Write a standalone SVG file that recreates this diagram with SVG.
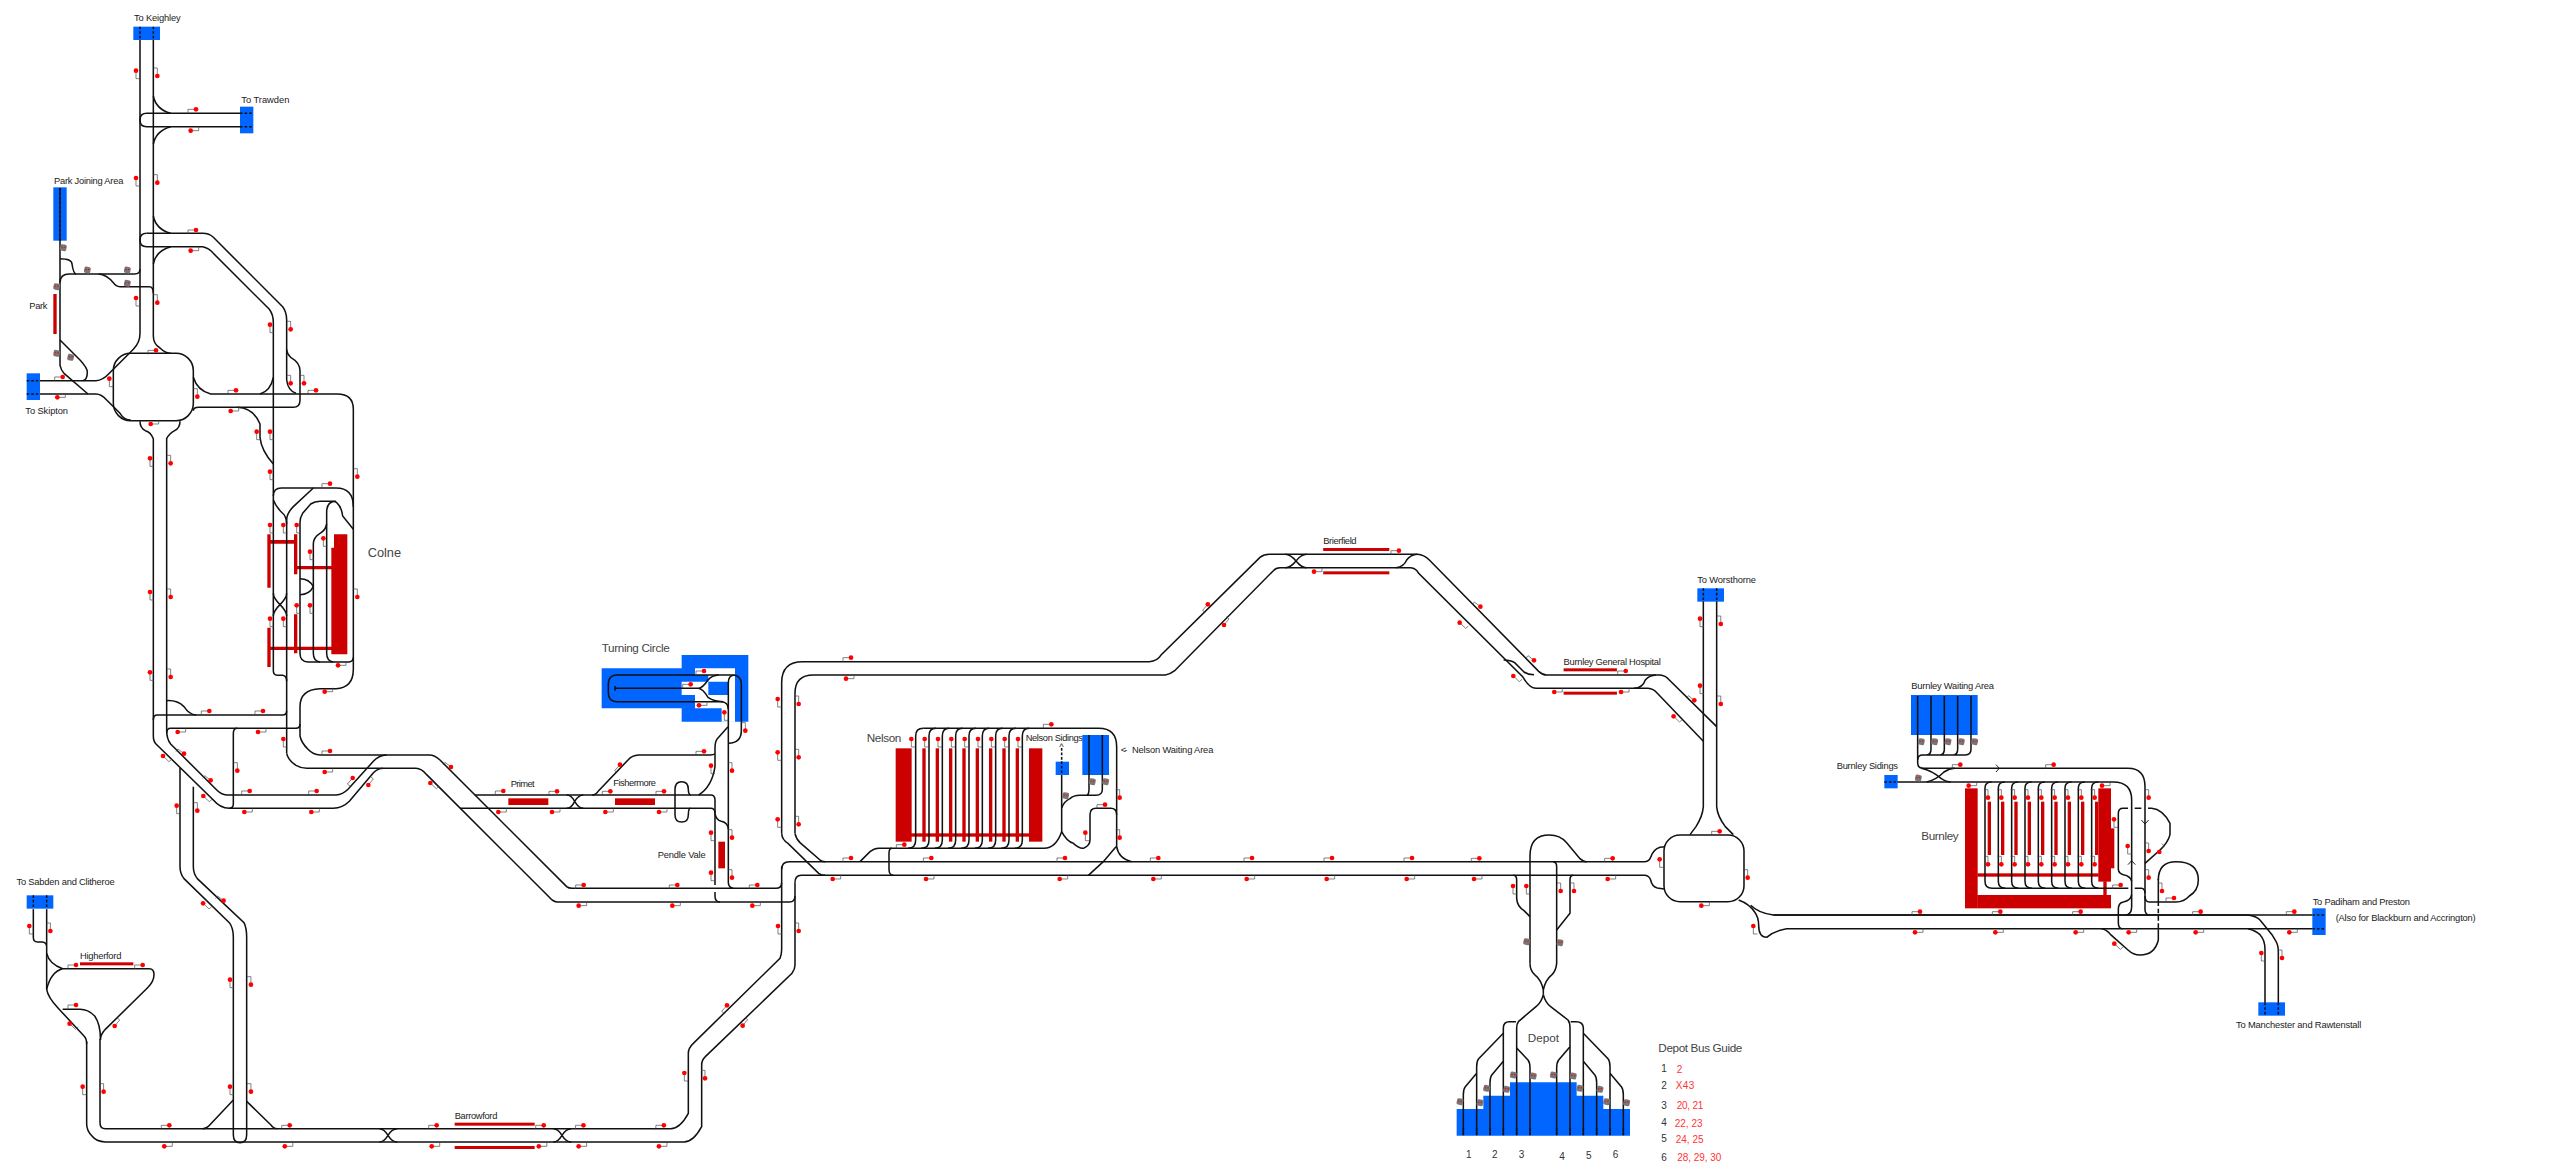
<svg xmlns="http://www.w3.org/2000/svg" width="2560" height="1176" viewBox="0 0 2560 1176">
<style>
text{font-family:"Liberation Sans",Arial,sans-serif;font-size:7px;fill:#222}
.big{font-size:8.8px;fill:#444}
.rt{font-size:7.5px;fill:#f33}
.num{font-size:7.5px;fill:#333}
.b{fill:#06f}
.r{fill:#c00}
.w{fill:#fff}
.t{fill:none;stroke:#111;stroke-width:1.15}
.d{fill:none;stroke:#111;stroke-width:1.15;stroke-dasharray:2 1.4}
.k{fill:none;stroke:#444;stroke-width:.5}
.o{fill:#f00}
.g{fill:#777}
</style>
<defs>
<g id="a"><path class="k" d="M-6,3V0H0"/><circle class="o" r="1.75"/></g>
<g id="u"><path class="k" d="M6,-3V0H0"/><circle class="o" r="1.75"/></g>
<g id="l"><path class="k" d="M0,0V6H3"/><circle class="o" r="1.75"/></g>
<g id="n"><path class="k" d="M0,0V-6H-3"/><circle class="o" r="1.75"/></g>
<g id="p"><path class="k" d="M0,0L-4.5,-3.5L-6,-1.5"/><circle class="o" r="1.75"/></g>
<g id="q"><path class="k" d="M0,0L4.5,4.25L6.5,2.5"/><circle class="o" r="1.75"/></g>
<g id="v"><path class="k" d="M0,0L-4,4.5L-2,6"/><circle class="o" r="1.75"/></g>
<g id="e"><path class="k" d="M0,0L3.75,-4.5L1.75,-6.25"/><circle class="o" r="1.75"/></g>
<g id="gs"><rect class="g" x="-2.4" y="-2.4" width="4.8" height="4.8" rx="1.2" transform="rotate(12)"/><circle class="o" cx="-1" cy="-.4" r=".55"/><circle class="o" cx="1" cy="-.4" r=".55"/></g>
</defs>
<rect width="2560" height="1176" fill="#fff"/>
<g transform="scale(1.33333)">
<g id="to-keighley"><rect class="b" x="100" y="20" width="20" height="10"/><text x="100.5" y="16" textLength="35">To Keighley</text></g>
<g id="to-trawden"><rect class="b" x="180" y="80" width="10" height="20"/><text x="181" y="77.5" textLength="36">To Trawden</text></g>
<g id="park-joining-area"><rect class="b" x="40" y="140.5" width="10" height="40"/><text x="40.5" y="138" textLength="52">Park Joining Area</text></g>
<g id="park"><rect class="r" x="40" y="220.5" width="2.5" height="30"/><text x="22" y="231.5" textLength="13.5">Park</text></g>
<g id="to-skipton"><rect class="b" x="20" y="280" width="10" height="20"/><text x="19" y="310.75" textLength="32">To Skipton</text></g>
<g id="colne"><path class="r" d="M250.5,400.75h10v90h-12v-80h2zM200.5,400.75h2.5v4.25h17.5v-4.25h2.5v30h-2.5v-23h-17.5v33h-2.5zM223,424.5h25.5v2.5h-25.5zM200.5,470.75h2.5v14.25h17.5v-24.25h2.5v24.25h25.5v2.5h-25.5v2.5h-2.5v-2.5h-17.5v12.75h-2.5z"/><text class="big" style="font-size:9.6px" x="275.75" y="418" textLength="25">Colne</text></g>
<g id="turning-circle"><path class="b" d="M451.25,501.25h60v-10h50v50h-50v-10h-60z"/><path class="w" d="M521.25,501.25h30v40h-10v-10h-20v-10h25v-10h-15v-5h-10zM511.25,511.25h20v10h-20z"/><rect class="w" x="546.25" y="511.25" width="5" height="30"/><text class="big" x="451.25" y="488.75" textLength="51">Turning Circle</text></g>
<g id="primet"><rect class="r" x="381.25" y="598.75" width="30" height="5"/><text x="383" y="590" textLength="18">Primet</text></g>
<g id="fishermore"><rect class="r" x="461.25" y="598.75" width="30" height="5"/><text x="460" y="589.75" textLength="32">Fishermore</text></g>
<g id="pendle-vale"><rect class="r" x="538.75" y="631.25" width="5" height="20"/><text x="493.25" y="643.25" textLength="36">Pendle Vale</text></g>
<g id="to-sabden"><rect class="b" x="20" y="671.5" width="20" height="10"/><text x="12.4" y="664" textLength="73.6">To Sabden and Clitheroe</text></g>
<g id="higherford"><rect class="r" x="60" y="721.75" width="40" height="2.25"/><text x="60" y="719" textLength="31">Higherford</text></g>
<g id="barrowford"><rect class="r" x="341" y="842" width="60" height="2.25"/><rect class="r" x="341" y="859.5" width="60" height="2.25"/><text x="341" y="839.5" textLength="32">Barrowford</text></g>
<g id="nelson"><rect class="r" x="671.75" y="561.25" width="12" height="70"/><rect class="r" x="771.75" y="561.25" width="10" height="70"/><rect class="r" x="683" y="625" width="89" height="2.5"/><rect class="r" x="691.75" y="561.25" width="2.5" height="70"/><rect class="r" x="701.75" y="561.25" width="2.5" height="70"/><rect class="r" x="711.75" y="561.25" width="2.5" height="70"/><rect class="r" x="721.75" y="561.25" width="2.5" height="70"/><rect class="r" x="731.75" y="561.25" width="2.5" height="70"/><rect class="r" x="741.75" y="561.25" width="2.5" height="70"/><rect class="r" x="751.75" y="561.25" width="2.5" height="70"/><rect class="r" x="761.75" y="561.25" width="2.5" height="70"/><text class="big" x="650" y="556.75" textLength="26">Nelson</text></g>
<g id="nelson-sidings"><rect class="b" x="791.75" y="571.25" width="10" height="10"/><text x="769.25" y="555.75" textLength="43">Nelson Sidings</text><text x="794.5" y="562.5">^</text></g>
<g id="nelson-waiting-area"><rect class="b" x="811.75" y="551.25" width="20" height="30"/><text x="840.5" y="564.5" textLength="5">&lt;-</text><text x="849" y="564.5" textLength="61">Nelson Waiting Area</text></g>
<g id="brierfield"><rect class="r" x="992.4" y="411" width="49.6" height="2.25"/><rect class="r" x="992.4" y="428.5" width="49.6" height="2.25"/><text x="992.4" y="408" textLength="25">Brierfield</text></g>
<g id="burnley-general"><rect class="r" x="1172.7" y="501.25" width="40" height="2.25"/><rect class="r" x="1172.7" y="518.75" width="40" height="2.25"/><text x="1172.7" y="498.75" textLength="72.9">Burnley General Hospital</text></g>
<g id="to-worsthorne"><rect class="b" x="1273" y="441.25" width="20" height="10"/><text x="1273" y="437" textLength="44">To Worsthorne</text></g>
<g id="depot"><path class="b" d="M1132.5,811.75h50v10h20v10h20v20h-130v-20h20v-10h20z"/><text class="big" x="1145.75" y="781.25" textLength="23.5">Depot</text><text class="num" x="1099.5" y="868.75">1</text><text class="num" x="1119" y="868.75">2</text><text class="num" x="1139" y="868.75">3</text><text class="num" x="1169.5" y="870">4</text><text class="num" x="1189.5" y="869.5">5</text><text class="num" x="1209.5" y="868.75">6</text></g>
<g id="depot-bus-guide"><text class="big" x="1243.75" y="789" textLength="63">Depot Bus Guide</text><text class="num" x="1246" y="804.25">1</text><text class="num" x="1246" y="816.5">2</text><text class="num" x="1246" y="832">3</text><text class="num" x="1246" y="844.25">4</text><text class="num" x="1246" y="856.25">5</text><text class="num" x="1246" y="870.5">6</text><text class="rt" x="1257.5" y="804.5">2</text><text class="rt" x="1256.75" y="816.75" textLength="14">X43</text><text class="rt" x="1257.5" y="831.75" textLength="20">20, 21</text><text class="rt" x="1256" y="845" textLength="21">22, 23</text><text class="rt" x="1256.75" y="857" textLength="21">24, 25</text><text class="rt" x="1258" y="870.5" textLength="33">28, 29, 30</text></g>
<g id="burnley-waiting-area"><rect class="b" x="1433.25" y="521.25" width="50" height="30"/><text x="1433.5" y="517" textLength="62">Burnley Waiting Area</text></g>
<g id="burnley-sidings"><rect class="b" x="1413.25" y="581.25" width="10" height="10"/><text x="1377.5" y="577" textLength="46">Burnley Sidings</text></g>
<g id="burnley"><rect class="r" x="1473.75" y="591.25" width="9.5" height="90"/><rect class="r" x="1483" y="671.25" width="100.25" height="10"/><rect class="r" x="1483" y="655" width="91" height="2.5"/><rect class="r" x="1490.75" y="601.25" width="2.5" height="40"/><rect class="r" x="1500.75" y="601.25" width="2.5" height="40"/><rect class="r" x="1510.75" y="601.25" width="2.5" height="40"/><rect class="r" x="1520.75" y="601.25" width="2.5" height="40"/><rect class="r" x="1530.75" y="601.25" width="2.5" height="40"/><rect class="r" x="1540.75" y="601.25" width="2.5" height="40"/><rect class="r" x="1550.75" y="601.25" width="2.5" height="40"/><rect class="r" x="1560.75" y="601.25" width="2.5" height="40"/><rect class="r" x="1573.75" y="591.25" width="9.5" height="70"/><rect class="r" x="1571.25" y="601.25" width="2.5" height="40"/><rect class="r" x="1583.25" y="621.25" width="2.5" height="30"/><rect class="r" x="1577.5" y="661" width="2.5" height="10.5"/><text class="big" x="1441" y="630" textLength="28">Burnley</text></g>
<g id="to-padiham"><rect class="b" x="1734.25" y="681.25" width="10" height="20"/><text x="1734.5" y="678.75" textLength="73">To Padiham and Preston</text><text x="1751.75" y="690.75" textLength="105">(Also for Blackburn and Accrington)</text></g>
<g id="to-manchester"><rect class="b" x="1693.75" y="751.75" width="20" height="10"/><text x="1677" y="770.75" textLength="94">To Manchester and Rawtenstall</text></g>

<g id="connectors">
<path class="d" d="M105,20V30M115,20V30M180,85H190M180,95H190M45,141V181M20,285.5H30M20,295.5H30M25,671.5V682M35,671.5V682M796.25,571V582M1277.5,441.25V451M1287.5,441.25V451M1413.25,586.5H1423M1734.25,686.25H1744.25M1734.25,696.5H1744.25M1698.75,752V762M1708.75,752V762M1097.5,846V852M1107.5,846V852M1117.5,846V852M1127.5,846V852M1137.5,846V852M1147.5,846V852M1167.5,846V852M1177.5,846V852M1187.5,846V852M1197.5,846V852M1207.5,846V852M1217.5,846V852M796.25,561V571"/>
<path class="t" d="M105,30V250Q105,257 100,262L82,280Q77,285.5 72,285.5H30"/>
<path class="t" d="M115,30V252Q115,258 120,261Q124,265 128,265"/>
<path class="t" d="M180,85H110Q105,85 105,90Q105,95 110,95H180"/>
<path class="t" d="M115,72Q117,82 128,85M128,95Q117,98 115,108"/>
<path class="t" d="M115,162Q117,172 128,175H152Q157,175 160,178L212,230Q215,234 215,240V285Q216,293 222,295"/>
<path class="t" d="M110,175Q105,175 105,180Q105,185 110,185H152Q157,186 160,190L202,232Q205,236 205,242V503Q205,506 208,506.5H212Q215,507 215,511"/>
<path class="t" d="M110,175H128M115,198Q117,188 128,185"/>
<path class="t" d="M45,141V274Q46,278 48,280L66,295.5"/>
<path class="t" d="M45,255L60,270Q65.5,276 65.5,279Q65.5,285 62,285.5"/>
<path class="t" d="M45,194Q54,194 54,198Q55,205 57,205.5"/>
<path class="t" d="M45,212Q45,205.5 52,205.5H101Q105,205.5 105,202"/>
<path class="t" d="M74,205.5Q80,206 85,212Q87,215 90,215H112Q115,215 115,220"/>
<path class="t" d="M30,295.5H72Q76,295.5 80,300L90,310Q93,315 98,315"/>
<rect class="t" x="85" y="265" width="60" height="50.5" rx="13"/>
<path class="t" d="M105,316Q105,321 109,323Q113,324 115,329V552Q115,556 117,558L160,600Q165,606 172,606.25H250Q257,606 262,601L278,582Q282,576.5 287,576.25"/>
<path class="t" d="M135,316Q135,321 131,323Q127,325 125,329V548Q125,554 128,558L162,592Q166,596.25 170,596.25H252Q257,596 261,592L280,571Q284,566.5 290,566.25"/>
<path class="t" d="M145,283Q148,293 158,295.5H253Q265,295.5 265,307V502Q265,516 252,516.5H240Q225,517 225,530V552Q226,557 231,562Q235,566.25 240,566.25H322Q326,566.25 330,570L425,665Q426.5,666.25 429,666.25H582Q586.25,666 586.25,662"/>
<path class="t" d="M145,308Q145,305.5 149,305.5H220Q225,305.5 225,300V278Q225,272 218,268Q215,265 215,262"/>
<path class="t" d="M195,295.5Q203,293 205,283M178,305.5Q190,306 195,318V328Q196,338 205,348"/>
<path class="t" d="M205,372Q205,366 211,366H252Q265,366 265,380"/>
<path class="t" d="M215,565V390Q215,385 220,380L235,366"/>
<path class="t" d="M205,375Q207,380 211,384Q215,387 215,393"/>
<path class="t" d="M265,397L257,387Q256,380 253,377.5Q252,376 250,376H240Q236,376 233,378L227,385Q225,388 225,392V490Q225,496.5 231,496.5H262Q265,496 265,493"/>
<path class="t" d="M252,376Q245,376 245,384V490Q245,496 250,496.5"/>
<path class="t" d="M245,393Q244,398 240,400Q235,403 235,408V490Q235,496 240,496.5"/>
<path class="t" d="M225,434Q232,434 235,440Q232,446 225,446"/>
<path class="t" d="M205,445C205,452 215,455 215,462M215,445C215,452 205,455 205,462"/>
<path class="t" d="M215,565Q216,570 222,574Q226,576.25 230,576.25H312Q316,576.25 320,581L412,673Q415,676.5 418,676.5H592Q596.25,676.5 596.25,672"/>
<path class="t" d="M118,536.25H212Q215,536 215,533M115,540Q115,536.25 118,536.25"/>
<path class="t" d="M128,546.25H222Q225,546 225,543M125,550Q125,546.25 128,546.25"/>
<path class="t" d="M125,525.5Q133,525 138,530Q142,536 147,536.25"/>
<path class="t" d="M172,606.25Q175,606 175,603V550Q175,546.25 178,546.25"/>
<path class="t" d="M135,576V650Q135,655 138,659L172,692Q175,696 175,703V851Q175,857 180,857Q185,857 185,851V703Q185,696 183,692L148,659Q145,655 145,650V590"/>
<path class="t" d="M175,825L158,843Q155,846.5 152,846.5M185,826L203,843.5Q205,846.5 208,846.5"/>
<path class="t" d="M284.5,856.5Q288,856.5 291,851.5Q294,846.5 298,846.5M284.5,846.5Q288,846.5 291,851.5Q294,856.5 298,856.5M415,856.5Q418.5,856.5 421.5,851.5Q424.5,846.5 428.5,846.5M415,846.5Q418.5,846.5 421.5,851.5Q424.5,856.5 428.5,856.5"/>
<path class="t" d="M25,682V703Q25,706.5 28,706.5H32Q35,707 35,710M35,682V742Q36,748 43.5,756L63,777Q65,779 65,783"/>
<path class="t" d="M35,715Q37,723 47,726.5H112Q115.5,726.5 115.5,731Q115.5,736 110.5,741L79,772Q75.3,776 75.3,780M47,726.5Q38,729 35,742M47,757H60Q66,757 71,762Q75.3,768 75.3,779"/>
<path class="t" d="M546.25,557.5Q556,557 556,548V513Q556,506.25 549,506.25H463Q456.25,506.25 456.25,513V519.5Q456.25,526.25 463,526.25H541Q546.25,526.5 546.25,532"/>
<path class="t" d="M546.25,512Q546.25,506.5 551,506.25M546.25,512V662Q546.5,666 550,666.25"/>
<path class="t" d="M461.25,516.25H523.75Q527,516 531,510Q534,506.5 539,506.25M523.75,516.25Q527,516.5 531,523Q535,526 542.5,526.25M461.25,514.5V518"/>
<path class="t" d="M546,545L538,554Q536.25,556 536.25,561V575Q534,590 524,596.25M536.25,565Q536,566.25 530,566.25H479Q474,566.5 471,570L449,593Q447,596.25 444,596.25"/>
<path class="t" d="M356,596.25H533Q536.25,596.25 536.25,600V663.75"/>
<path class="t" d="M345,606.25H533Q536.25,606.25 536.25,610"/>
<path class="t" d="M536.25,610Q537,615 541,616Q546,617 546.25,622M536.25,669V672Q536.25,676.5 540,676.5"/>
<path class="t" d="M425,606.25Q428.5,606.25 431,601Q434,596.25 437.5,596.25M425,596.25Q428.5,596.25 431,601Q434,606.25 437.5,606.25"/>
<path class="t" d="M518,596.25Q516.25,596 516.25,592Q516.25,586.25 511.25,586.25Q506.25,586.25 506.25,592V611Q506.25,616.5 511.25,616.5Q516.25,616.5 516.25,611Q516.25,606.25 518,606.25"/>
<path class="t" d="M586.25,625V512Q586.25,496.25 602,496.25H862Q868,496 871,491L945,418Q948,415.75 952,415.75H1063Q1068,416 1072,420L1154,503.5Q1157,506.25 1160,506.25H1245Q1249,506.5 1252,510L1287.5,545"/>
<path class="t" d="M596.25,625V520Q596.25,506.25 610,506.25H874Q878,505.5 881,503L955,428Q957,425.75 960,425.75H1058Q1062,426 1064,430L1142,507.5Q1147,516.25 1152,516.25H1236Q1240,516.5 1243,520L1277.5,556"/>
<path class="t" d="M586.25,625Q586.5,630 591,632.5L614,655Q616,656.5 619,656.5M596.25,625Q597,629 600,632L615,645Q616,646.25 619,646.25"/>
<path class="t" d="M586.25,650V712Q586.25,716 585,718.75L520,782.5Q516.25,786 516.25,790V835Q510,846.5 503,846.5H79Q75,846.5 75,842V779M596.25,662V723.75Q596.25,727 594,730L529,792.5Q526.25,795 526.25,799V845Q520,856.5 513,856.5H79Q72,856 69,852Q65,848 65,843V781"/>
<path class="t" d="M586.25,652Q586.25,646.25 592,646.25H1233.75Q1237,646 1238,643Q1240,637 1245,635.5L1248.75,635M596.25,662Q596.25,656.5 601,656.5H1233.75Q1237,657 1238,660Q1239,665 1243,666L1248,666.75"/>
<path class="t" d="M964,415.75Q968,416 972,420.75Q976,425.75 980,425.75M964,425.75Q968,425.75 972,420.75Q976,415.75 980,415.75M1047,425.75Q1053,425 1055,420Q1058,416 1063,415.75M1225.5,516.25Q1232,516 1234,510Q1237,506.5 1242,506.25M1127.7,495Q1133,495 1136,497L1143,504Q1146,506 1150.5,506"/>
<path class="t" d="M1277.5,451V605Q1277,612 1272,620L1267.5,626M1287.5,451V605Q1288,612 1294,620L1300,626"/>
<path class="t" d="M692.5,546.25H824Q837.5,546.25 837.5,560V635Q839,644 848.75,646.25M837,635L827.5,646.25L816.25,656.5"/>
<path class="t" d="M686.75,552Q686.75,546.25 692.5,546.25M686.75,552V630Q686.75,636.25 681,636.25M696.75,552Q696.75,546.25 702,546.25M696.75,552V630Q696.75,636.25 691,636.25M706.75,552Q706.75,546.25 712,546.25M706.75,552V630Q706.75,636.25 701,636.25M716.75,552Q716.75,546.25 722,546.25M716.75,552V630Q716.75,636.25 711,636.25M726.75,552Q726.75,546.25 732,546.25M726.75,552V630Q726.75,636.25 721,636.25M736.75,552Q736.75,546.25 742,546.25M736.75,552V630Q736.75,636.25 731,636.25M746.75,552Q746.75,546.25 752,546.25M746.75,552V630Q746.75,636.25 741,636.25M756.75,552Q756.75,546.25 762,546.25M756.75,552V630Q756.75,636.25 751,636.25M766.75,552Q766.75,546.25 772,546.25M766.75,552V630Q766.75,636.25 761,636.25"/>
<path class="t" d="M645,646.25L652.5,638.75Q656,636.25 659,636.25H783Q792,636 796.25,623.75V582"/>
<path class="t" d="M669,636.25Q666.75,636.25 666.75,640V652Q666.75,656.5 670,656.5"/>
<path class="t" d="M796.25,623.75Q800,631 805,632.5Q810,637 813,636Q817.5,634 817.5,630V611Q817.5,606.25 822,606.25H833Q837.5,606.25 837.5,611"/>
<path class="t" d="M796.25,606Q798,601 802.5,599Q805,596.5 810,596.5H822Q826.75,596.5 826.75,592V551.25M815,596.5Q816.75,596 816.75,592V551.25"/>
<rect class="t" x="1248" y="626.25" width="60" height="50" rx="12"/>
<path class="t" d="M1147.5,722.5V642Q1147.5,626.25 1162,626.25Q1170,626.25 1175,632L1185,644Q1187,646 1190,646.5"/>
<path class="t" d="M1165,646.5Q1167.5,646.5 1167.5,650V722.5Q1167,728 1164,731Q1159,735 1157.5,742.5Q1156,735 1151,731Q1147.5,728 1147.5,722.5"/>
<path class="t" d="M1157.5,742.5V746"/>
<path class="t" d="M1157.5,746Q1156,752 1152,755L1139,766Q1137.5,768 1137.5,771V851M1157.5,746Q1159,752 1163,755L1176,765Q1177.5,767 1177.5,771V851"/>
<path class="t" d="M1135,656.5Q1137.5,656.5 1137.5,660V674Q1138,680 1143,683L1147.5,687.5M1180,656.5Q1177.5,656.5 1177.5,660V685L1167.5,697.5"/>
<path class="t" d="M1127.5,851V771Q1127.5,766.25 1132,766.25H1137M1178,766.25H1182Q1187.5,766.25 1187.5,771V851"/>
<path class="t" d="M1127.5,775L1109,794Q1107.5,796 1107.5,800V851M1107.5,805L1099,815Q1097.5,817 1097.5,821V851M1127.5,796L1119,806Q1117.5,808 1117.5,812V851M1137.5,786L1146,795Q1147.5,797 1147.5,801V851M1177.5,785L1169,795Q1167.5,797 1167.5,801V851M1187.5,775L1206,794Q1207.5,796 1207.5,800V851M1187.5,796L1196,806Q1197.5,808 1197.5,812V851M1207.5,805L1216,815Q1217.5,817 1217.5,821V851"/>
<path class="t" d="M1304,675Q1312,678 1316,684Q1319,688 1319,694Q1319,703 1325,703Q1331,698 1340,696.5H1686Q1692,698 1695,701Q1698.75,705 1698.75,712V752"/>
<path class="t" d="M1313,679Q1319,685 1330,686.25H1686Q1692,687 1695,690L1704,701L1707,706Q1708.75,709 1708.75,714V752"/>
<path class="t" d="M1330,686.25H1734M1686,696.5H1734"/>
<path class="t" d="M1438.25,522V572Q1438.25,576.25 1443,576.25H1596Q1608.75,576.25 1608.75,590V682.5Q1609,686 1612,686.25"/>
<path class="t" d="M1438.25,570Q1438.25,566.25 1442,566.25H1474Q1478.25,566.25 1478.25,562V522M1448.25,522V562Q1448.25,566 1445,566.25M1458.25,522V562Q1458.25,566 1455,566.25M1468.25,522V562Q1468.25,566 1465,566.25"/>
<path class="t" d="M1441,576.25Q1449,578 1456,584Q1460,586.5 1463,586.5M1445,586.5Q1452,585 1458,579Q1462,576.25 1466,576.25"/>
<path class="t" d="M1423,586.5H1585Q1598.75,586.5 1598.75,600V680Q1598.75,686 1594,686.25"/>
<path class="t" d="M1493.75,586.5Q1488.75,586.5 1488.75,591V661Q1488.75,666.25 1494,666.25M1503.75,586.5Q1498.75,586.5 1498.75,591V661Q1498.75,666.25 1504,666.25M1513.75,586.5Q1508.75,586.5 1508.75,591V661Q1508.75,666.25 1514,666.25M1523.75,586.5Q1518.75,586.5 1518.75,591V661Q1518.75,666.25 1524,666.25M1533.75,586.5Q1528.75,586.5 1528.75,591V661Q1528.75,666.25 1534,666.25M1543.75,586.5Q1538.75,586.5 1538.75,591V661Q1538.75,666.25 1544,666.25M1553.75,586.5Q1548.75,586.5 1548.75,591V661Q1548.75,666.25 1554,666.25M1563.75,586.5Q1558.75,586.5 1558.75,591V661Q1558.75,666.25 1564,666.25M1573.75,586.5Q1568.75,586.5 1568.75,591V661Q1568.75,666.25 1574,666.25"/>
<path class="t" d="M1494,666.25H1596.25M1601,666.25H1606Q1608.75,666.5 1608.75,670"/>
<path class="t" d="M1596,606.25H1592.5Q1588.75,606.25 1588.75,610V652Q1589,655 1592.5,656Q1598,657 1598.75,661M1601,606.25H1606M1611,606.25H1613.75Q1622,607 1627.5,617.5V626Q1626,632 1620,637.5L1608.75,647.5"/>
<path class="t" d="M1618.75,660Q1618.75,646.25 1632,646.25Q1648.75,646.25 1648.75,660Q1648.75,668 1642,672Q1638,676.5 1632,676.5H1612Q1608.75,676.5 1608.75,672"/>
<path class="t" d="M1618.75,659V676M1618.75,697V705Q1616,716.25 1605,716.25Q1600,716.25 1596,712.5L1583,701Q1580,697 1576.25,696.5"/>
<path class="d" d="M1618.75,676V697" style="stroke-dasharray:3.5 2"/>
<path class="t" d="M1592,696.5Q1588.75,696.5 1588.75,692V682Q1588.75,677 1592.5,676.5Q1598,675.5 1598.75,671"/>
<path class="k" style="stroke:#111;stroke-width:.7" d="M1497,573.5L1499.5,576.25L1497,579M1606,615L1608.75,618L1611.5,615M1596,648.5L1598.75,645.5L1601.5,648.5"/>
</g>

<g id="signals">
<use href="#l" x="102" y="53"/><use href="#l" x="102" y="133.5"/><use href="#l" x="102" y="223.5"/><use href="#l" x="202.5" y="243.5"/><use href="#l" x="82" y="284"/>
<use href="#n" x="118" y="57"/><use href="#n" x="118" y="137"/><use href="#n" x="118" y="227"/><use href="#n" x="218" y="247"/><use href="#n" x="218" y="287.5"/><use href="#n" x="228" y="287.5"/><use href="#n" x="148" y="297.5"/>
<use href="#a" x="147" y="82"/><use href="#a" x="147" y="172.5"/><use href="#a" x="117" y="262.75"/><use href="#a" x="47" y="282.75"/><use href="#a" x="177" y="292.75"/><use href="#a" x="237" y="292.75"/>
<use href="#u" x="143" y="98"/><use href="#u" x="143" y="188"/><use href="#u" x="43" y="298"/><use href="#u" x="173" y="308.25"/>
<use href="#gs" x="47.5" y="185.75"/><use href="#gs" x="65.5" y="202.5"/><use href="#gs" x="95.5" y="202.5"/><use href="#gs" x="95.5" y="212.5"/><use href="#gs" x="42.5" y="215"/><use href="#gs" x="42.5" y="265"/><use href="#gs" x="53" y="268"/>
<use href="#u" x="113" y="318"/>
<use href="#l" x="112.5" y="343.75"/><use href="#l" x="112.5" y="444"/><use href="#l" x="112.5" y="504.25"/><use href="#l" x="192.5" y="323.75"/><use href="#l" x="202.5" y="323.75"/><use href="#l" x="202.5" y="353.75"/><use href="#l" x="202.5" y="393.75"/><use href="#l" x="212.5" y="393.75"/><use href="#l" x="222.5" y="393.75"/><use href="#l" x="232.5" y="413.75"/><use href="#l" x="242.5" y="403.75"/><use href="#l" x="222.5" y="454"/><use href="#l" x="232.5" y="454"/><use href="#l" x="202.5" y="464"/><use href="#l" x="212.5" y="464"/><use href="#l" x="212.5" y="554.25"/><use href="#l" x="132.5" y="604.25"/>
<use href="#n" x="128" y="347.5"/><use href="#n" x="128" y="447.75"/><use href="#n" x="128" y="507.75"/><use href="#n" x="268" y="357.5"/><use href="#n" x="268" y="447.75"/><use href="#n" x="178" y="578"/><use href="#n" x="148" y="608"/>
<use href="#a" x="247.5" y="362.75"/><use href="#a" x="157" y="533.25"/><use href="#a" x="197.25" y="533.25"/><use href="#a" x="247.5" y="563.25"/><use href="#a" x="187.25" y="593.25"/><use href="#a" x="237.5" y="593.25"/><use href="#a" x="377.5" y="593.25"/>
<use href="#u" x="253.5" y="499"/><use href="#u" x="243.5" y="518.75"/><use href="#u" x="133.25" y="549"/><use href="#u" x="193.5" y="549"/><use href="#u" x="243.5" y="579"/><use href="#u" x="183.25" y="609"/><use href="#u" x="233.5" y="609"/><use href="#u" x="373.75" y="609"/>
<use href="#p" x="138" y="565.25"/><use href="#p" x="158" y="585.25"/><use href="#p" x="338.25" y="575.25"/><use href="#q" x="122.25" y="567"/><use href="#q" x="152.5" y="597"/><use href="#q" x="322.75" y="587.25"/><use href="#v" x="264.5" y="583.5"/><use href="#e" x="276.25" y="588.75"/>
<use href="#a" x="417.75" y="593.5"/><use href="#a" x="457.75" y="593.5"/><use href="#a" x="498" y="593.5"/><use href="#a" x="528" y="563.5"/><use href="#a" x="437.75" y="663.75"/><use href="#a" x="508" y="663.75"/><use href="#a" x="568" y="663.75"/><use href="#a" x="638.25" y="493.25"/><use href="#a" x="638.25" y="643.5"/><use href="#a" x="528" y="503.25"/><use href="#a" x="518" y="513.25"/><use href="#a" x="678.25" y="633.5"/>
<use href="#u" x="414" y="609"/><use href="#u" x="454" y="609"/><use href="#u" x="494.25" y="609"/><use href="#u" x="434" y="679.25"/><use href="#u" x="504.25" y="679.25"/><use href="#u" x="564.25" y="679.25"/><use href="#u" x="634.5" y="509"/><use href="#u" x="624.5" y="659.25"/><use href="#u" x="694.5" y="659.25"/><use href="#u" x="524.25" y="529"/>
<use href="#l" x="543.25" y="534.25"/><use href="#l" x="533.25" y="574.25"/><use href="#l" x="533.25" y="624.5"/><use href="#l" x="533.25" y="654.5"/><use href="#l" x="583.25" y="524.25"/><use href="#l" x="583.25" y="564.25"/><use href="#l" x="583.25" y="614.5"/>
<use href="#l" x="683.5" y="554.25"/><use href="#l" x="693.5" y="554.25"/><use href="#l" x="703.5" y="554.25"/><use href="#l" x="713.5" y="554.25"/><use href="#l" x="723.5" y="554.25"/><use href="#l" x="733.5" y="554.25"/><use href="#l" x="743.5" y="554.25"/><use href="#l" x="753.5" y="554.25"/><use href="#l" x="763.5" y="554.25"/>
<use href="#n" x="559" y="548"/><use href="#n" x="549" y="578"/><use href="#n" x="549" y="628.25"/><use href="#n" x="549" y="658.25"/><use href="#n" x="599" y="528"/><use href="#n" x="599" y="568"/><use href="#n" x="599" y="618.25"/><use href="#v" x="465" y="573.5"/>
<use href="#a" x="698.5" y="643.5"/><use href="#a" x="798.75" y="643.5"/><use href="#a" x="868.75" y="643.5"/><use href="#a" x="939" y="643.5"/><use href="#a" x="999" y="643.5"/><use href="#a" x="1059" y="643.5"/><use href="#a" x="1109.5" y="643.75"/><use href="#a" x="1209.5" y="643.75"/><use href="#a" x="788.5" y="543.25"/><use href="#a" x="828.75" y="603.5"/>
<use href="#u" x="794.75" y="659.25"/><use href="#u" x="865" y="659.25"/><use href="#u" x="935" y="659.25"/><use href="#u" x="995" y="659.25"/><use href="#u" x="1055" y="659.25"/><use href="#u" x="1105.5" y="659.25"/><use href="#u" x="1205.75" y="659.25"/>
<use href="#l" x="814" y="624.5"/><use href="#n" x="839.75" y="598.25"/><use href="#n" x="839.75" y="628.25"/>
<use href="#gs" x="819.25" y="586.25"/><use href="#gs" x="829.25" y="586.25"/><use href="#gs" x="799.25" y="596.75"/>
<use href="#l" x="1134.75" y="664.5"/><use href="#l" x="1144.75" y="664.5"/><use href="#l" x="1244.75" y="644.5"/><use href="#l" x="1315" y="694.5"/><use href="#n" x="1170.5" y="668.25"/><use href="#n" x="1180.5" y="668.25"/><use href="#n" x="1310.75" y="658.25"/><use href="#a" x="1289.75" y="623.5"/><use href="#u" x="1276" y="679.25"/>
<use href="#gs" x="1095" y="826.25"/><use href="#gs" x="1110" y="827"/><use href="#gs" x="1115" y="816.25"/><use href="#gs" x="1130" y="817"/><use href="#gs" x="1135" y="806.25"/><use href="#gs" x="1150" y="807"/><use href="#gs" x="1165" y="806.25"/><use href="#gs" x="1180" y="807"/><use href="#gs" x="1185" y="816.25"/><use href="#gs" x="1200" y="817"/><use href="#gs" x="1205" y="826.25"/><use href="#gs" x="1220" y="827"/><use href="#gs" x="1145" y="706.25"/><use href="#gs" x="1170" y="707"/>
<use href="#v" x="905.9" y="453.25"/><use href="#e" x="918" y="468.75"/><use href="#a" x="1049.2" y="413"/><use href="#u" x="985.5" y="428.75"/><use href="#p" x="1110.3" y="455"/><use href="#q" x="1094.75" y="467"/><use href="#p" x="1150.5" y="495.25"/><use href="#q" x="1135" y="507"/><use href="#a" x="1219.3" y="503.25"/><use href="#u" x="1165.7" y="519"/><use href="#u" x="1215.8" y="519"/><use href="#p" x="1270.75" y="525.25"/><use href="#q" x="1255.2" y="537.25"/><use href="#l" x="1275" y="464"/><use href="#n" x="1290.6" y="468"/><use href="#l" x="1275" y="514.25"/><use href="#n" x="1290.6" y="528"/>
<use href="#l" x="22" y="694.5"/><use href="#l" x="62" y="815"/><use href="#l" x="172.5" y="734.75"/><use href="#l" x="172.5" y="815"/><use href="#l" x="513.25" y="804.75"/><use href="#n" x="37.8" y="698.25"/><use href="#n" x="77.7" y="818.75"/><use href="#n" x="188.2" y="738.5"/><use href="#n" x="188.2" y="818.75"/><use href="#n" x="528.75" y="808.75"/>
<use href="#a" x="57" y="723.75"/><use href="#a" x="107" y="723.75"/><use href="#a" x="57" y="753.75"/><use href="#a" x="127" y="844"/><use href="#a" x="217.3" y="844"/><use href="#a" x="327.5" y="844"/><use href="#a" x="407.8" y="844"/><use href="#a" x="437.6" y="844"/><use href="#a" x="497.9" y="844"/>
<use href="#u" x="123.2" y="859.75"/><use href="#u" x="213.6" y="859.75"/><use href="#u" x="323.8" y="859.75"/><use href="#u" x="404.1" y="859.75"/><use href="#u" x="434" y="859.75"/><use href="#u" x="494.2" y="859.75"/>
<use href="#q" x="52.2" y="767.75"/><use href="#e" x="86" y="769.5"/><use href="#q" x="152.3" y="677.5"/><use href="#p" x="167.7" y="675.5"/><use href="#l" x="583.5" y="694.5"/><use href="#n" x="599" y="698.25"/><use href="#v" x="545.25" y="754"/><use href="#e" x="557" y="769.25"/>
<use href="#a" x="1470.25" y="573.5"/><use href="#a" x="1540.25" y="573.5"/><use href="#a" x="1440" y="683.75"/><use href="#a" x="1500.25" y="683.75"/><use href="#a" x="1560.5" y="683.75"/><use href="#a" x="1650.5" y="683.75"/><use href="#a" x="1720.75" y="683.75"/><use href="#a" x="1590.5" y="663.75"/><use href="#a" x="1630.5" y="673.5"/>
<use href="#u" x="1476.5" y="589.25"/><use href="#u" x="1576.5" y="589.25"/><use href="#u" x="1436.25" y="699.25"/><use href="#u" x="1496.5" y="699.25"/><use href="#u" x="1556.75" y="699.25"/><use href="#u" x="1596.5" y="699.25"/><use href="#u" x="1646.75" y="699.25"/><use href="#u" x="1717" y="699.25"/>
<use href="#n" x="1491" y="598.25"/><use href="#n" x="1501" y="598.25"/><use href="#n" x="1511" y="598.25"/><use href="#n" x="1521" y="598.25"/><use href="#n" x="1531" y="598.25"/><use href="#n" x="1541" y="598.25"/><use href="#n" x="1551" y="598.25"/><use href="#n" x="1561" y="598.25"/><use href="#n" x="1571" y="598.25"/>
<use href="#n" x="1491" y="648.25"/><use href="#n" x="1501" y="648.25"/><use href="#n" x="1511" y="648.25"/><use href="#n" x="1521" y="648.25"/><use href="#n" x="1531" y="648.25"/><use href="#n" x="1541" y="648.25"/><use href="#n" x="1551" y="648.25"/><use href="#n" x="1561" y="648.25"/><use href="#n" x="1571" y="648.25"/>
<use href="#n" x="1611.5" y="598.25"/><use href="#n" x="1611.5" y="638.25"/><use href="#n" x="1611.5" y="658.25"/><use href="#l" x="1585.5" y="614.5"/><use href="#l" x="1595.75" y="634.5"/><use href="#n" x="1621.5" y="668.25"/><use href="#e" x="1619.5" y="639"/><use href="#q" x="1585.75" y="707.75"/><use href="#l" x="1696" y="714.75"/><use href="#n" x="1711.5" y="718.5"/>
<use href="#gs" x="1441" y="556.25"/><use href="#gs" x="1451" y="556.25"/><use href="#gs" x="1461" y="556.25"/><use href="#gs" x="1471" y="556.25"/><use href="#gs" x="1481" y="556.25"/><use href="#gs" x="1438.75" y="583.5"/>
</g>
</g>
</svg>
